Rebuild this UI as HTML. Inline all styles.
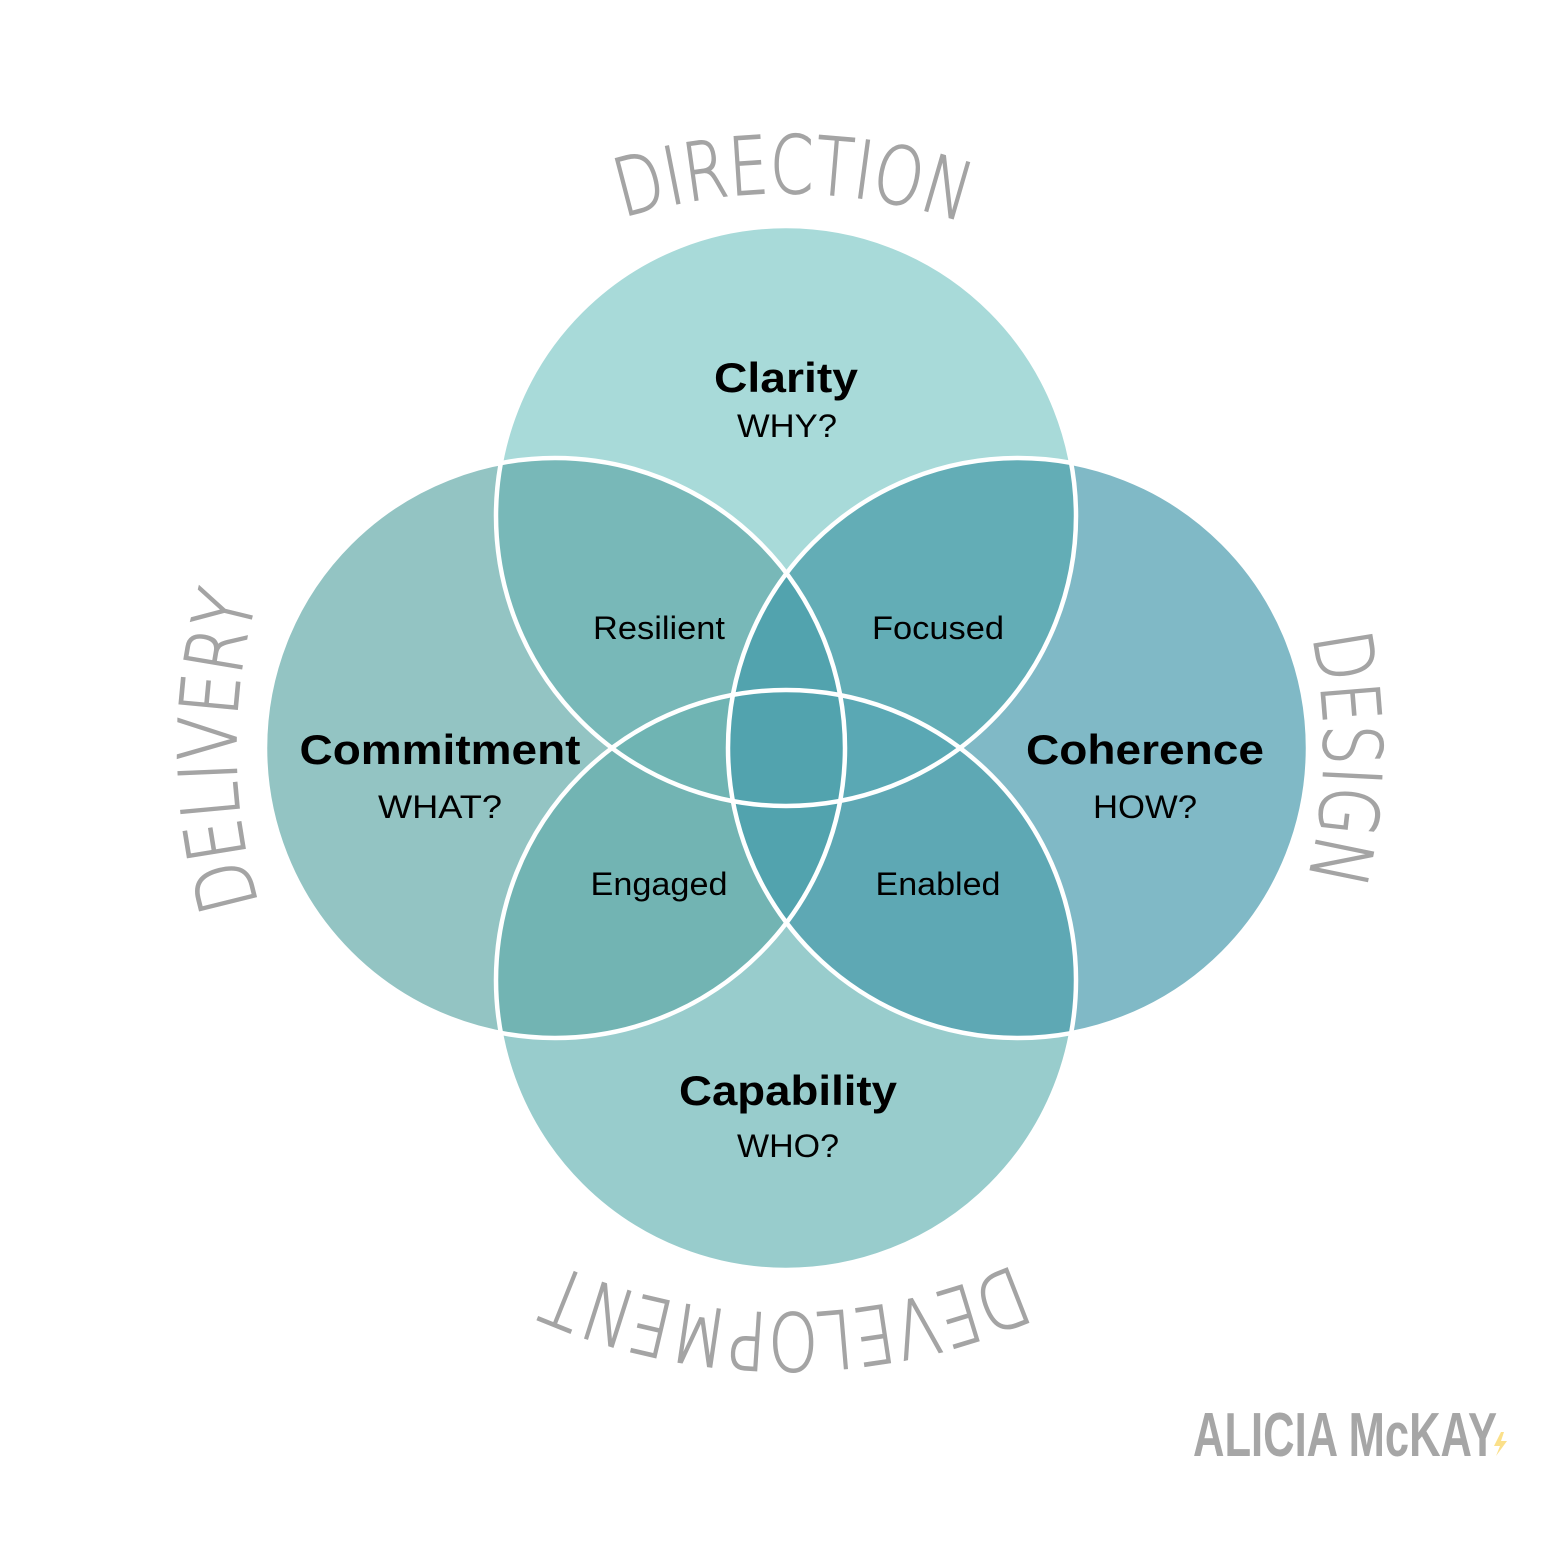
<!DOCTYPE html>
<html><head><meta charset="utf-8"><style>
html,body{margin:0;padding:0;background:#fff;}
svg{display:block;}
.b{font-family:"Liberation Sans",sans-serif;font-weight:bold;fill:#000;text-anchor:middle;}
.n{font-family:"Liberation Sans",sans-serif;fill:#000;text-anchor:middle;}
.arc{font-family:"DejaVu Sans ExtraLight","DejaVu Sans","Liberation Sans",sans-serif;font-weight:200;fill:#a4a4a4;stroke:#a4a4a4;stroke-width:1.4;font-size:80px;}
</style></head><body>
<svg width="1563" height="1563" viewBox="0 0 1563 1563" xmlns="http://www.w3.org/2000/svg">
<defs>
<clipPath id="cT"><circle cx="786" cy="516" r="290"/></clipPath>
<clipPath id="cB"><circle cx="786" cy="980" r="290"/></clipPath>
<clipPath id="cL"><circle cx="555" cy="748" r="290"/></clipPath>
<path id="pTop" d="M786,1303 A555,555 0 1 1 786,193 A555,555 0 1 1 786,1303"/>
<path id="pLeft" d="M786,1298 A550,550 0 1 1 786,198 A550,550 0 1 1 786,1298"/>
<path id="pRight" d="M786,210 A538,538 0 1 1 786,1286 A538,538 0 1 1 786,210"/>
<path id="pBot" d="M786,183 A565,565 0 1 1 786,1313 A565,565 0 1 1 786,183"/>
</defs>
<circle cx="786" cy="516" r="290" fill="#a8dad9"/>
<circle cx="786" cy="980" r="290" fill="#98cccc"/>
<circle cx="555" cy="748" r="290" fill="#93c4c3"/>
<circle cx="1018" cy="748" r="290" fill="#80b9c6"/>
<g clip-path="url(#cT)"><circle cx="555" cy="748" r="290" fill="#78b8b8"/><circle cx="1018" cy="748" r="290" fill="#63adb6"/></g>
<g clip-path="url(#cB)"><circle cx="555" cy="748" r="290" fill="#72b4b3"/><circle cx="1018" cy="748" r="290" fill="#5ea8b4"/></g>
<g clip-path="url(#cT)"><g clip-path="url(#cB)"><circle cx="555" cy="748" r="290" fill="#6fb4b3"/><circle cx="1018" cy="748" r="290" fill="#5aa8b4"/></g></g>
<g clip-path="url(#cL)"><circle cx="1018" cy="748" r="290" fill="#52a3ae"/></g>
<g fill="none" stroke="#fff" stroke-width="4.5">
<circle cx="786" cy="516" r="290"/><circle cx="786" cy="980" r="290"/>
<circle cx="555" cy="748" r="290"/><circle cx="1018" cy="748" r="290"/>
</g>
<text class="b" x="786" y="392" font-size="42" textLength="144" lengthAdjust="spacingAndGlyphs">Clarity</text>
<text class="n" x="787" y="437" font-size="32" textLength="100" lengthAdjust="spacingAndGlyphs">WHY?</text>
<text class="b" x="440" y="764" font-size="42" textLength="281" lengthAdjust="spacingAndGlyphs">Commitment</text>
<text class="n" x="440" y="818" font-size="32" textLength="124" lengthAdjust="spacingAndGlyphs">WHAT?</text>
<text class="b" x="1145" y="764" font-size="42" textLength="238" lengthAdjust="spacingAndGlyphs">Coherence</text>
<text class="n" x="1145" y="818" font-size="32" textLength="104" lengthAdjust="spacingAndGlyphs">HOW?</text>
<text class="b" x="788" y="1105" font-size="42" textLength="218" lengthAdjust="spacingAndGlyphs">Capability</text>
<text class="n" x="788" y="1157" font-size="32" textLength="102" lengthAdjust="spacingAndGlyphs">WHO?</text>
<text class="n" x="659" y="639" font-size="32" textLength="132" lengthAdjust="spacingAndGlyphs">Resilient</text>
<text class="n" x="938" y="639" font-size="32" textLength="132" lengthAdjust="spacingAndGlyphs">Focused</text>
<text class="n" x="659" y="895" font-size="32" textLength="137" lengthAdjust="spacingAndGlyphs">Engaged</text>
<text class="n" x="938" y="895" font-size="32" textLength="125" lengthAdjust="spacingAndGlyphs">Enabled</text>
<text class="arc"><textPath href="#pTop" startOffset="50.2%" text-anchor="middle" textLength="345" lengthAdjust="spacingAndGlyphs">DIRECTION</textPath></text>
<text class="arc"><textPath href="#pLeft" startOffset="24.9%" text-anchor="middle" textLength="310" lengthAdjust="spacingAndGlyphs">DELIVERY</textPath></text>
<text class="arc"><textPath href="#pRight" startOffset="25.3%" text-anchor="middle" textLength="245" lengthAdjust="spacingAndGlyphs">DESIGN</textPath></text>
<text class="arc"><textPath href="#pBot" startOffset="50%" text-anchor="middle" textLength="470" lengthAdjust="spacingAndGlyphs">DEVELOPMENT</textPath></text>
<text x="1193" y="1456" font-family="'Liberation Sans',sans-serif" font-weight="bold" font-size="62" fill="#a6a6a6" textLength="304" lengthAdjust="spacingAndGlyphs">ALICIA McKAY</text>
<path d="M1501,1432 L1494,1446 L1500,1446 L1496,1456 L1507,1441 L1501,1441 L1504,1432 Z" fill="#fbe08a"/>
</svg>
</body></html>
